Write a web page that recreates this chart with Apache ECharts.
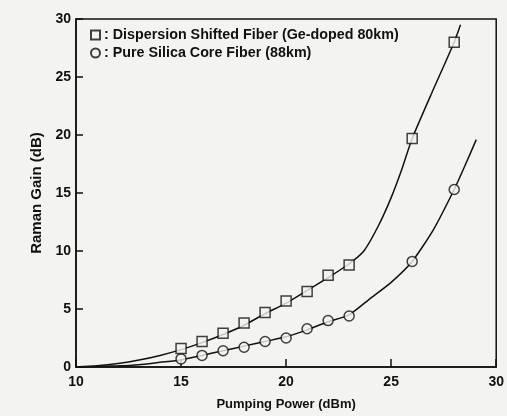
<!DOCTYPE html>
<html>
<head>
<meta charset="utf-8">
<script src="https://cdn.jsdelivr.net/npm/echarts@6/dist/echarts.min.js"></script>
<style>
  html, body { margin: 0; padding: 0; background: #f3f3f1; }
  #chart { width: 507px; height: 416px; }
</style>
</head>
<body>
<div id="chart"></div>
<script>
// measured points
const pumpPower = [15, 16, 17, 18, 19, 20, 21, 22, 23, 26, 28]
const dsfGain = [1.6, 2.2, 2.9, 3.8, 4.7, 5.7, 6.5, 7.9, 8.8, 19.7, 28.0]
const pscGain = [0.7, 1.0, 1.4, 1.7, 2.2, 2.5, 3.3, 4.0, 4.4, 9.1, 15.3]

// fitted curves
const dsfCurveX = [10, 11, 12, 13, 14, 15, 16, 17, 18, 19, 20, 21, 22, 23, 23.7, 24.4, 25, 25.5, 26, 27, 28, 28.3]
const dsfCurveY = [0, 0.1, 0.3, 0.6, 1.0, 1.5, 2.1, 2.8, 3.6, 4.6, 5.5, 6.6, 7.7, 8.9, 10.0, 12.2, 14.6, 17.0, 19.7, 23.9, 28.0, 29.5]
const pscCurveX = [10, 12, 13, 14, 15, 16, 17, 18, 19, 20, 21, 22, 23, 24, 25, 26, 27, 28, 28.5, 29.05]
const pscCurveY = [0, 0.1, 0.2, 0.4, 0.6, 1.0, 1.4, 1.8, 2.2, 2.6, 3.2, 3.9, 4.5, 5.9, 7.3, 9.1, 11.8, 15.3, 17.3, 19.6]

const dsfName = 'Dispersion Shifted Fiber (Ge-doped 80km)'
const pscName = 'Pure Silica Core Fiber (88km)'

const zip = (xs, ys) => xs.map((x, i) => [x, ys[i]])

const font = 'Liberation Sans, Arial, sans-serif'
const ink = '#111'
const paper = '#f3f3f1'

const chart = echarts.init(document.getElementById('chart'))
chart.setOption({
  backgroundColor: paper,
  animation: false,
  grid: {
    left: 76,
    right: 9,
    top: 19,
    bottom: 48,
    show: true,
    borderColor: ink,
    borderWidth: 1.5,
  },
  legend: {
    orient: 'vertical',
    left: 85,
    top: 23,
    itemGap: 4,
    itemWidth: 9,
    itemHeight: 9,
    data: [dsfName, pscName],
    formatter: name => ': ' + name,
    textStyle: {fontFamily: font, fontSize: 14.3, fontWeight: 'bold', color: ink, padding: [0, 0, 0, -1]},
  },
  xAxis: {
    type: 'value',
    min: 10,
    max: 30,
    interval: 5,
    name: 'Pumping Power (dBm)',
    nameLocation: 'middle',
    nameGap: 31,
    nameTextStyle: {fontFamily: font, fontSize: 13, fontWeight: 'bold', color: ink},
    axisLine: {lineStyle: {color: ink, width: 1.5}},
    axisTick: {inside: true, length: 8, lineStyle: {color: ink, width: 1.5}},
    axisLabel: {fontFamily: font, fontSize: 14, fontWeight: 'bold', color: ink, margin: 8},
    splitLine: {show: false},
  },
  yAxis: {
    type: 'value',
    min: 0,
    max: 30,
    interval: 5,
    name: 'Raman Gain (dB)',
    nameLocation: 'middle',
    nameGap: 32,
    nameTextStyle: {fontFamily: font, fontSize: 15, fontWeight: 'bold', color: ink},
    axisLine: {lineStyle: {color: ink, width: 1.5}},
    axisTick: {inside: true, length: 7, lineStyle: {color: ink, width: 1.5}},
    axisLabel: {fontFamily: font, fontSize: 14, fontWeight: 'bold', color: ink, margin: 5},
    splitLine: {show: false},
  },
  series: [
    {
      name: 'dsf curve',
      type: 'line',
      data: zip(dsfCurveX, dsfCurveY),
      smooth: 0.2,
      showSymbol: false,
      lineStyle: {color: ink, width: 1.5},
      z: 1,
    },
    {
      name: 'psc curve',
      type: 'line',
      data: zip(pscCurveX, pscCurveY),
      smooth: 0.2,
      showSymbol: false,
      lineStyle: {color: ink, width: 1.5},
      z: 1,
    },
    {
      name: dsfName,
      type: 'scatter',
      symbol: 'rect',
      symbolSize: 10,
      data: zip(pumpPower, dsfGain),
      itemStyle: {color: paper, borderColor: ink, borderWidth: 1.5},
      z: 3,
    },
    {
      name: pscName,
      type: 'scatter',
      symbol: 'circle',
      symbolSize: 10,
      data: zip(pumpPower, pscGain),
      itemStyle: {color: paper, borderColor: ink, borderWidth: 1.5},
      z: 3,
    },
  ],
})
</script>
</body>
</html>
